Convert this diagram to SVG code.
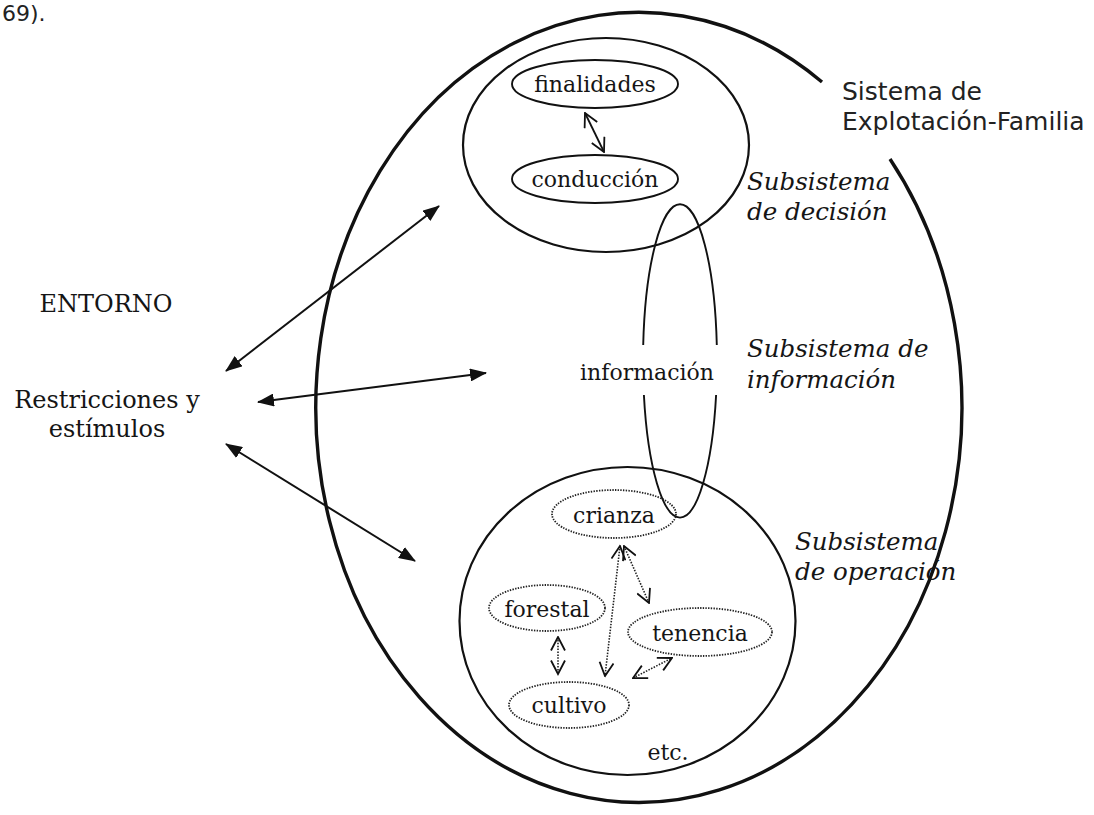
<svg xmlns="http://www.w3.org/2000/svg" width="1094" height="815" viewBox="0 0 1094 815">
  <style>
    .bg { fill: #ffffff; }
    .line { fill: none; stroke: #111; }
    .outer { stroke-width: 3.4; }
    .sub { stroke-width: 2.2; }
    .node { stroke-width: 1.9; }
    .dot { fill: none; stroke: #222; stroke-width: 1.8; stroke-dasharray: 1.4 1.3; }
    .link { fill: none; stroke: #111; stroke-width: 2; }
    .dlink { fill: none; stroke: #222; stroke-width: 1.6; stroke-dasharray: 1.5 1.4; }
    .serif { font-family: "DejaVu Serif", "Liberation Serif", serif; fill: #151515; }
    .lbl { font-size: 22px; }
    .env { font-size: 24px; }
    .ital { font-family: "DejaVu Serif", "Liberation Serif", serif; font-style: italic; font-size: 24.5px; fill: #151515; }
    .sans { font-family: "DejaVu Sans", "Liberation Sans", sans-serif; font-size: 25px; fill: #222; }
  </style>
  <defs>
    <marker id="solid" viewBox="0 0 17 13" refX="16" refY="6.5" markerWidth="17" markerHeight="13" markerUnits="userSpaceOnUse" orient="auto-start-reverse">
      <path d="M0,0 L17,6.5 L0,13 z" fill="#111"/>
    </marker>
    <marker id="open" viewBox="0 0 16 16" refX="14.5" refY="8" markerWidth="16" markerHeight="16" markerUnits="userSpaceOnUse" orient="auto-start-reverse">
      <path d="M1,1 L14.5,8 L1,15" fill="none" stroke="#111" stroke-width="1.8" stroke-dasharray="none"/>
    </marker>
  </defs>

  <rect class="bg" x="0" y="0" width="1094" height="815"/>

  <!-- caption fragment at the top edge -->
  <text class="sans" x="2" y="21" style="font-size:22px">69).</text>

  <!-- farm-family system boundary, open where its label sits -->
  <g id="sistema">
    <path class="line outer" d="M890,159 A323,395 0 1 1 822,82"/>
    <text class="sans" x="842" y="100">Sistema de</text>
    <text class="sans" x="842" y="130">Explotación-Familia</text>
  </g>

  <!-- environment -->
  <g id="entorno">
    <text class="serif env" x="106" y="312" text-anchor="middle">ENTORNO</text>
    <text class="serif env" x="107" y="408" text-anchor="middle">Restricciones y</text>
    <text class="serif env" x="107" y="437" text-anchor="middle">estímulos</text>
  </g>

  <!-- decision subsystem -->
  <g id="decision">
    <ellipse class="line sub" cx="606" cy="145" rx="143" ry="107"/>
    <text class="ital" x="747" y="190">Subsistema</text>
    <text class="ital" x="747" y="220">de decisión</text>
  </g>
  <g id="finalidades">
    <ellipse class="line node" cx="595" cy="84" rx="83" ry="24"/>
    <text class="serif lbl" x="595" y="92" text-anchor="middle">finalidades</text>
  </g>
  <g id="conduccion">
    <ellipse class="line node" cx="595" cy="179" rx="83" ry="24"/>
    <text class="serif lbl" x="595" y="187" text-anchor="middle">conducción</text>
  </g>

  <!-- information subsystem (ring broken around its label) -->
  <g id="informacion">
    <path class="line node" d="M643.2,345 A37,157 0 0 1 716.8,345"/>
    <path class="line node" d="M643.9,395 A37,157 0 0 0 716.1,395"/>
    <text class="serif lbl" x="647" y="380" text-anchor="middle">información</text>
    <text class="ital" x="747" y="357">Subsistema de</text>
    <text class="ital" x="747" y="388">información</text>
  </g>

  <!-- operation subsystem -->
  <g id="operacion">
    <ellipse class="line sub" cx="627.5" cy="621" rx="168" ry="154"/>
    <text class="ital" x="795" y="550">Subsistema</text>
    <text class="ital" x="795" y="580">de operación</text>
    <text class="serif lbl" x="668" y="760" text-anchor="middle">etc.</text>
  </g>
  <g id="crianza">
    <ellipse class="dot" cx="614" cy="514" rx="62" ry="24"/>
    <text class="serif lbl" x="614" y="523" text-anchor="middle">crianza</text>
  </g>
  <g id="forestal">
    <ellipse class="dot" cx="547" cy="608" rx="58" ry="23"/>
    <text class="serif lbl" x="547" y="617" text-anchor="middle">forestal</text>
  </g>
  <g id="tenencia">
    <ellipse class="dot" cx="700" cy="632" rx="72" ry="24"/>
    <text class="serif lbl" x="700" y="641" text-anchor="middle">tenencia</text>
  </g>
  <g id="cultivo">
    <ellipse class="dot" cx="569" cy="705" rx="60" ry="23"/>
    <text class="serif lbl" x="569" y="713" text-anchor="middle">cultivo</text>
  </g>

  <!-- connectors -->
  <g id="connectors">
    <path class="link" d="M226,371 L439,206" marker-start="url(#solid)" marker-end="url(#solid)"/>
    <path class="link" d="M258,402 L486,373" marker-start="url(#solid)" marker-end="url(#solid)"/>
    <path class="link" d="M226,444 L415,561" marker-start="url(#solid)" marker-end="url(#solid)"/>
    <path class="link" style="stroke-width:1.8" d="M585,113 L604,152" marker-start="url(#open)" marker-end="url(#open)"/>
    <path class="dlink" d="M620,546 L605,676" marker-start="url(#open)" marker-end="url(#open)"/>
    <path class="dlink" d="M624,546 L649,603" marker-start="url(#open)" marker-end="url(#open)"/>
    <path class="dlink" d="M558,637 L558,674" marker-start="url(#open)" marker-end="url(#open)"/>
    <path class="dlink" d="M633,678 L672,658" marker-start="url(#open)" marker-end="url(#open)"/>
  </g>
</svg>
